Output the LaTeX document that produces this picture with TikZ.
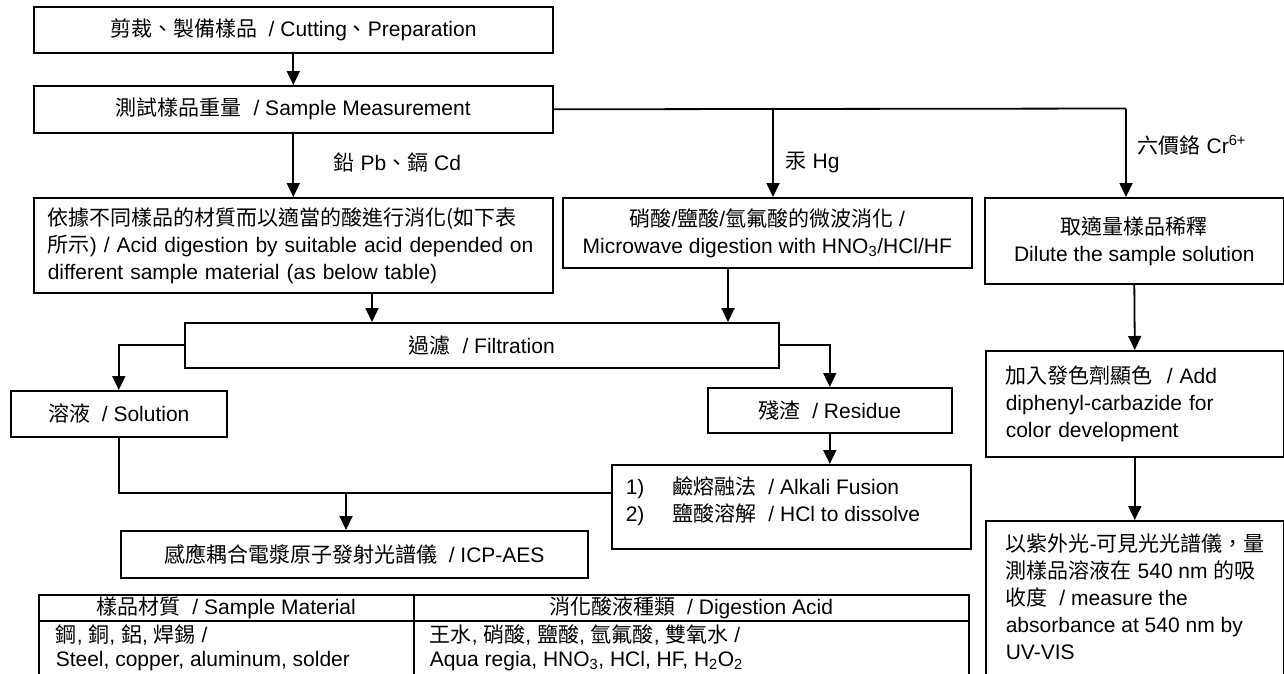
\documentclass[tikz,border=0pt]{standalone}
\usepackage{fontspec}
\setmainfont{Liberation Sans}
\newfontfamily\cjk{Noto Sans CJK TC}
\usetikzlibrary{arrows.meta}
\newcommand\zh[1]{{\cjk #1}}
\begin{document}
\begin{tikzpicture}[x=1pt,y=-1pt,line width=1.6pt,
  font=\fontsize{21}{27}\selectfont,
  box/.style={draw,inner sep=0pt,anchor=north west,align=center},
  txt/.style={inner sep=0pt,anchor=north west,align=left},
  arr/.style={-{Triangle[length=14pt,width=13pt]},line width=1.8pt},
  lbl/.style={inner sep=0pt,anchor=west}]
\useasboundingbox (0,0) rectangle (1284,673);
% boxes
\node[box,minimum width=519pt,minimum height=46pt] (cut) at (33,6) {\zh{剪裁、製備樣品}\ \ / Cutting\zh{、}Preparation};
\node[box,minimum width=519pt,minimum height=47pt] (meas) at (33,85) {\zh{測試樣品重量}\ \ / Sample Measurement};
\node[box,minimum width=519pt,minimum height=95pt,text width=491pt,align=left] (acid) at (33,197) {\zh{依據不同樣品的材質而以適當的酸進行消化(如下表}\\\zh{所示}) / Acid digestion by suitable acid depended on\\different sample material (as below table)};
\node[box,minimum width=409pt,minimum height=70pt] (micro) at (562,197) {\zh{硝酸}/\zh{鹽酸}/\zh{氫氟酸的微波消化}\ /\\Microwave digestion with HNO\textsubscript{3}/HCl/HF};
\node[box,minimum width=299pt,minimum height=86pt] (dil) at (984,197) {\zh{取適量樣品稀釋}\\Dilute the sample solution};
\node[box,minimum width=594pt,minimum height=45pt] (filt) at (184,322) {\zh{過濾}\ \ / Filtration};
\node[box,minimum width=216pt,minimum height=46pt] (sol) at (10,390) {\zh{溶液}\ \ / Solution};
\node[box,minimum width=244pt,minimum height=45pt] (res) at (707,387) {\zh{殘渣}\ \ / Residue};
\node[box,minimum width=359pt,minimum height=84pt] (alk) at (611,464) {};
\node[txt] (alkt) at (625,476) {\makebox[47pt][l]{1)}\zh{鹼熔融法}\ \ / Alkali Fusion\\\makebox[47pt][l]{2)}\zh{鹽酸溶解}\ \ / HCl to dissolve};
\node[box,minimum width=467pt,minimum height=47pt] (icp) at (120,530) {\zh{感應耦合電漿原子發射光譜儀}\ \ / ICP-AES};
\node[box,minimum width=298pt,minimum height=106pt,text width=258pt,align=left] (add) at (985,350) {\zh{加入發色劑顯色}\ \ / Add\\diphenyl-carbazide for\\color development};
\node[box,minimum width=298pt,minimum height=200pt] (uv) at (985,520) {};
\node[txt] (uvt) at (1005,533) {\zh{以紫外光}-\zh{可見光光譜儀，量}\\\zh{測樣品溶液在} 540 nm \zh{的吸}\\\zh{收度}\ \ / measure the\\absorbance at 540 nm by\\UV-VIS};
% table
\node[box,minimum width=375pt,minimum height=26pt] (h1) at (38,594) {\zh{樣品材質}\ \ / Sample Material};
\node[box,minimum width=555pt,minimum height=26pt] (h2) at (413,594) {\zh{消化酸液種類}\ \ / Digestion Acid};
\node[box,minimum width=375pt,minimum height=100pt] (c1) at (38,620) {};
\node[box,minimum width=555pt,minimum height=100pt] (c2) at (413,620) {};
\node[txt,font=\fontsize{21}{24}\selectfont] (c1t) at (55,624) {\zh{鋼}, \zh{銅}, \zh{鋁}, \zh{焊錫}\ /\\Steel, copper, aluminum, solder};
\node[txt,font=\fontsize{21}{24}\selectfont] (c2t) at (429,624) {\zh{王水}, \zh{硝酸}, \zh{鹽酸}, \zh{氫氟酸}, \zh{雙氧水}\ /\\Aqua regia, HNO\textsubscript{3}, HCl, HF, H\textsubscript{2}O\textsubscript{2}};
% labels
\node[lbl] (lpb) at (333,162) {\zh{鉛} Pb\zh{、鎘} Cd};
\node[lbl] (lhg) at (785,162) {\zh{汞} Hg};
\node[lbl] (lcr) at (1137,145) {\zh{六價鉻} Cr\textsuperscript{6+}};
% connectors
\coordinate (jhg) at (773,108.5);
\coordinate (jcr) at (1126,108.5);
\coordinate (a1) at (372,0);
\coordinate (m1) at (728,0);
\coordinate (jalk) at (611,493);
\coordinate (jicp) at (346,493);
\draw[arr] (cut.south) -- (meas.north);
\draw[arr] (meas.south) -- (acid.north);
\draw[line width=1.8pt] (meas.east) -- (jcr);
\draw[arr] (jhg) -- (jhg |- micro.north);
\draw[arr] (jcr) -- (jcr |- dil.north);
\draw[arr] (a1 |- acid.south) -- (a1 |- filt.north);
\draw[arr] (m1 |- micro.south) -- (m1 |- filt.north);
\draw[arr] (filt.west) -| (sol.north);
\draw[arr] (filt.east) -| (res.north);
\draw[arr] (res.south) -- (res.south |- alk.north);
\draw[line width=1.8pt] (sol.south) |- (jalk);
\draw[arr] (jicp) -- (jicp |- icp.north);
\draw[arr] (dil.south) -- (add.north);
\draw[arr] (add.south) -- (add.south |- uv.north);
\end{tikzpicture}
\end{document}
